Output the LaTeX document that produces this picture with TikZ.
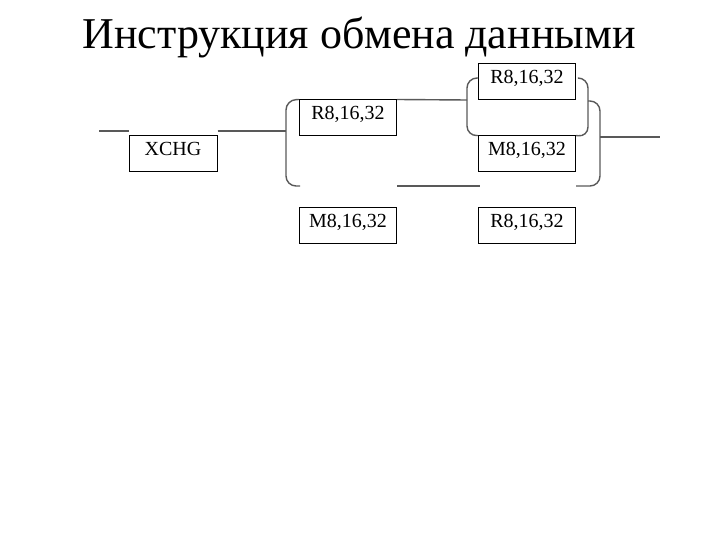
\documentclass[tikz,border=0pt]{standalone}
\usepackage{fontspec}
\setmainfont{Liberation Serif}
\usetikzlibrary{arrows}

\begin{document}
\begin{tikzpicture}[x=1bp,y=-1bp, main node/.style={draw,line width=1bp,font=\fontsize{20bp}{24bp}\selectfont,minimum width=97bp,inner xsep=0pt,inner ysep=5.5bp,text height=14bp,text depth=11bp},
	link/.style={draw=black!65,line width=1.4bp,rounded corners=10bp}]

	\useasboundingbox (0,0) rectangle (720,540);
	\node[font=\fontsize{44bp}{53bp}\selectfont] (title) at (359,38) {Инструкция обмена данными};

	\node[main node,minimum width=88bp] (xchg) at (173,154) {XCHG};
	\foreach \place/\name/\txt in {{(348,118)/r1/R8,16,32}, {(348,226)/m1/M8,16,32}, {(527,82)/r2/R8,16,32}, {(527,154)/m2/M8,16,32}, {(527,226)/r3/R8,16,32}}
		\node[main node] (\name) at \place {\txt};

	\coordinate (in) at (99,131);
	\coordinate (out) at (660,137);

	\draw[link] (in) -- (in -| xchg.west);
	\draw[link] (in -| xchg.east) -- (286,131);
	\draw[link] (r1.north west) -- (286,100) -- (286,186) -- (300,186);
	\draw[link] (r1.north east) -- (467,100);
	\draw[link] (r2.west |- 0,78) -- (467,78) -- (467,136) -- (m2.north west);
	\draw[link] (578,78) -- (588,78) -- (588,137) -- (m2.north east);
	\draw[link] (588,101) -- (600,101) -- (600,186) -- (576,186);
	\draw[link] (600,137) -- (out);
	\draw[link] (m1.north east |- 0,186) -- (480,186);
\end{tikzpicture}
\end{document}
